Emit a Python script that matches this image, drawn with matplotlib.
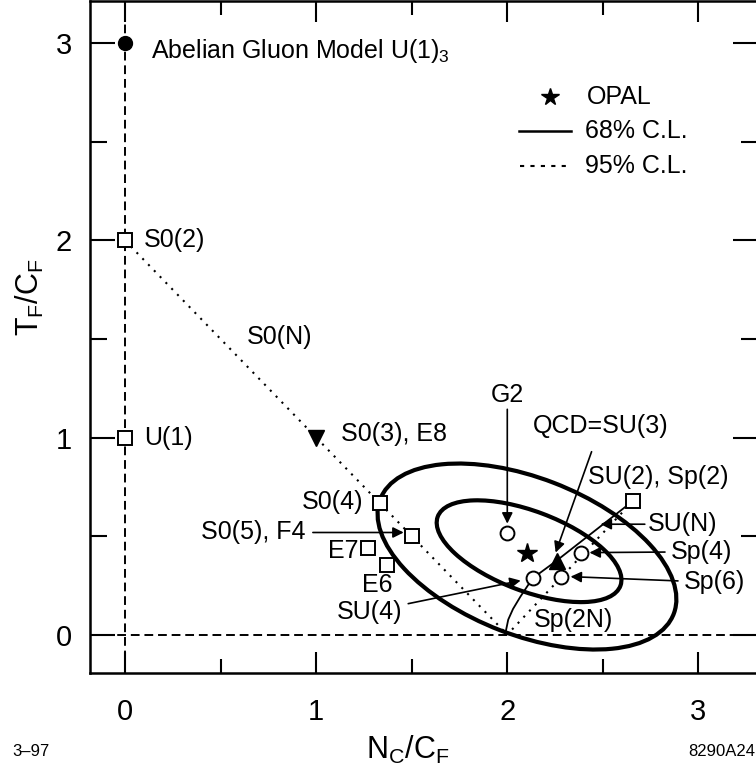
import matplotlib
matplotlib.use('Agg')
import matplotlib.pyplot as plt
from matplotlib.patches import Ellipse

plt.rcParams.update({
    'font.family': 'Liberation Sans',
    'mathtext.fontset': 'custom',
    'mathtext.rm': 'Liberation Sans',
    'mathtext.it': 'Liberation Sans:italic',
    'mathtext.default': 'rm',
})

# gauge groups, (N_C/C_F, T_F/C_F)
abelian_x, abelian_y = [0.0], [3.0]
square_names = ['S0(2)', 'U(1)', 'S0(4)', 'S0(5), F4', 'E7', 'E6', 'SU(2), Sp(2)']
square_x = [0.0, 0.0, 1.333, 1.5, 1.27, 1.37, 2.66]
square_y = [2.0, 1.0, 0.667, 0.5, 0.437, 0.355, 0.68]
circle_names = ['G2', 'SU(4)', 'Sp(4)', 'Sp(6)']
circle_x = [2.0, 2.132, 2.384, 2.279]
circle_y = [0.517, 0.285, 0.416, 0.294]
so3_x, so3_y = [1.0], [1.0]          # S0(3), E8
qcd_x, qcd_y = [2.258], [0.375]      # SU(3)
opal_x, opal_y = [2.101], [0.416]

# families
so_n_x = [0.0, 2.0]
so_n_y = [2.0, 0.0]
sp_n_x = [2.66, 2.0]
sp_n_y = [0.68, 0.0]
su_n_x = [2.66, 2.258, 2.132, 2.069, 2.03, 2.005, 1.993, 1.99]
su_n_y = [0.68, 0.375, 0.285, 0.193, 0.13, 0.076, 0.02, 0.0]

# OPAL contours: centre, full width, full height, angle
cl68 = ((2.114, 0.423), 1.018, 0.406, -20.0)
cl95 = ((2.103, 0.396), 1.642, 0.799, -20.5)

fig = plt.figure(figsize=(7.56, 7.69), dpi=100)
ax = fig.add_axes([90 / 756, 96 / 769, 666 / 756 + 0.003, 672 / 769])
ax.set_xlim(-0.183, 3.313)
ax.set_ylim(-0.195, 3.215)

ax.axvline(0, color='k', lw=1.4, ls=(0, (4.5, 2.5)), zorder=1)
ax.hlines(0, -0.183, 3.18, color='k', lw=1.4, ls=(0, (4.5, 2.5)), zorder=1)

for (c, w, h, a) in [cl68, cl95]:
    ax.add_patch(Ellipse(c, w, h, angle=a, fill=False, lw=3.0, ec='k', zorder=2))

ax.plot(so_n_x, so_n_y, color='k', lw=1.5, ls=(0, (1, 3)), zorder=2)
ax.plot(sp_n_x, sp_n_y, color='k', lw=1.5, ls=(0, (1, 3)), zorder=2)
ax.plot(su_n_x, su_n_y, color='k', lw=1.3, zorder=2)

ax.plot(abelian_x, abelian_y, 'o', color='k', ms=10, zorder=4)
ax.plot(square_x, square_y, 's', mfc='white', mec='k', mew=1.4, ms=10, ls='none', zorder=4)
ax.plot(circle_x, circle_y, 'o', mfc='white', mec='k', mew=1.4, ms=10, ls='none', zorder=4)
ax.plot(so3_x, so3_y, 'v', color='k', ms=12, zorder=4)
ax.plot(qcd_x, qcd_y, '^', color='k', ms=12, zorder=4)
ax.plot(opal_x, opal_y, '*', color='k', ms=15, zorder=4)

fs = 18
ax.text(0.136, 2.96, 'Abelian Gluon Model U(1)$_3$', fontsize=fs, va='center')
ax.text(0.10, 2.0, 'S0(2)', fontsize=fs, va='center')
ax.text(0.10, 1.0, 'U(1)', fontsize=fs, va='center')
ax.text(0.81, 1.51, 'S0(N)', fontsize=fs, va='center', ha='center')
ax.text(1.13, 1.02, 'S0(3), E8', fontsize=fs, va='center')
ax.text(1.249, 0.675, 'S0(4)', fontsize=fs, va='center', ha='right')
ax.text(0.946, 0.518, 'S0(5), F4', fontsize=fs, va='center', ha='right')
ax.text(1.223, 0.426, 'E7', fontsize=fs, va='center', ha='right')
ax.text(1.32, 0.254, 'E6', fontsize=fs, va='center', ha='center')
ax.text(2.79, 0.802, 'SU(2), Sp(2)', fontsize=fs, va='center', ha='center')
ax.text(2.138, 0.076, 'Sp(2N)', fontsize=fs, va='center')

arrow = dict(arrowstyle='-|>', color='k', lw=1.2, mutation_scale=16,
             shrinkA=0, shrinkB=0)
ax.annotate('G2', xy=(2.0, 0.563), xytext=(2.0, 1.218), fontsize=fs,
            ha='center', va='center', arrowprops=arrow)
ax.annotate('QCD=SU(3)', xy=(2.253, 0.416), xytext=(2.488, 1.056), fontsize=fs,
            ha='center', va='center', arrowprops=dict(arrow, shrinkA=8))
ax.annotate('SU(N)', xy=(2.488, 0.56), xytext=(2.734, 0.56), fontsize=fs,
            ha='left', va='center', arrowprops=arrow)
ax.annotate('Sp(4)', xy=(2.43, 0.416), xytext=(2.854, 0.42), fontsize=fs,
            ha='left', va='center', arrowprops=dict(arrow, shrinkA=2))
ax.annotate('Sp(6)', xy=(2.331, 0.294), xytext=(2.922, 0.265), fontsize=fs,
            ha='left', va='center', arrowprops=dict(arrow, shrinkA=2))
ax.annotate('SU(4)', xy=(2.07, 0.274), xytext=(1.453, 0.117), fontsize=fs,
            ha='right', va='center', arrowprops=dict(arrow, shrinkA=2))
ax.annotate('', xy=(1.458, 0.518), xytext=(0.983, 0.518), arrowprops=arrow)

# legend
ax.plot([2.222], [2.728], '*', color='k', ms=13)
ax.text(2.416, 2.728, 'OPAL', fontsize=fs, va='center')
ax.plot([2.059, 2.332], [2.556, 2.556], color='k', lw=1.8)
ax.text(2.405, 2.556, '68% C.L.', fontsize=fs, va='center')
ax.plot([2.065, 2.332], [2.378, 2.378], color='k', lw=1.5, ls=(0, (2, 3)))
ax.text(2.405, 2.378, '95% C.L.', fontsize=fs, va='center')

ax.set_xticks([0, 1, 2, 3])
ax.set_xticks([0.5, 1.5, 2.5], minor=True)
ax.set_yticks([0, 1, 2, 3])
ax.set_yticks([0.5, 1.5, 2.5], minor=True)
ax.tick_params(which='both', direction='in', top=True, right=True, width=1.5)
ax.tick_params(which='major', labelsize=21)
ax.tick_params(axis='x', which='major', length=15, pad=18)
ax.tick_params(axis='y', which='major', length=18, pad=13)
ax.tick_params(axis='x', which='minor', length=10)
ax.tick_params(axis='y', which='minor', length=12)
for s in ax.spines.values():
    s.set_linewidth(1.8)

fig.text(408 / 756, 1 - 750 / 769, 'N$_C$/C$_F$', fontsize=22, ha='center', va='center')
fig.text(30 / 756, 1 - 297 / 769, 'T$_F$/C$_F$', fontsize=22, ha='center',
         va='center', rotation=90)
fig.text(12 / 756, 1 - 752 / 769, '3–97', fontsize=12, va='center')
fig.text(0.999, 1 - 752 / 769, '8290A24', fontsize=12, va='center', ha='right')

fig.savefig('out.png', dpi=100)
